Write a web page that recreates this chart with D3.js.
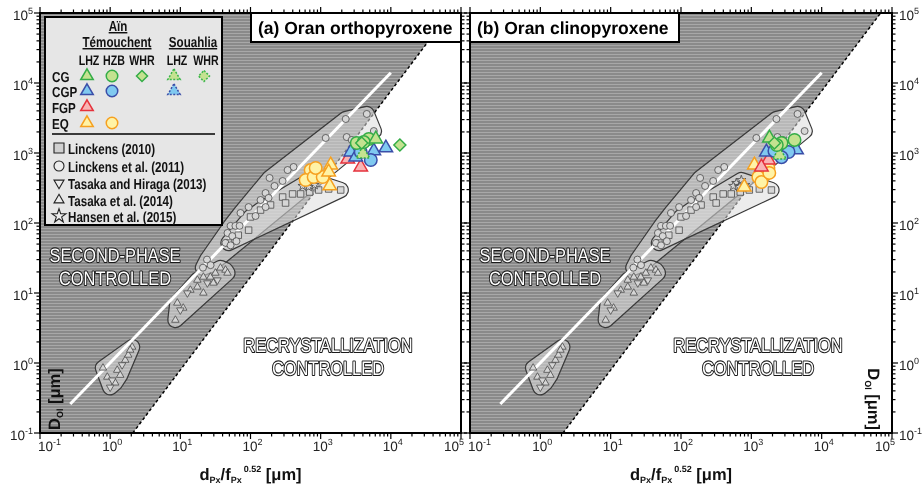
<!DOCTYPE html>
<html><head><meta charset="utf-8">
<script src="https://cdn.jsdelivr.net/npm/d3@7"></script>
<style>body{margin:0;background:#fff;-webkit-font-smoothing:antialiased}svg{display:block}text{text-rendering:geometricPrecision}</style>
</head><body>
<svg id="c" width="924" height="489"></svg>
<script>
// ---------------- DATA ----------------
const decades = [0.1, 1, 10, 100, 1000, 10000, 100000];
const decadeExp = ["-1", "0", "1", "2", "3", "4", "5"];
const boundary = [[2.1, 0.1], [6.9e4, 1e5]];        // second-phase / recrystallization limit
const fitLine = [[0.27, 0.26], [1e4, 1.4e4]];        // white trend line

// literature data [x, y, envelope group]
const linckens2011 = [[4540,3610,"c"],[2275,3060,"c"],[5720,2060,"c"],[1180,1640,"c"],[2350,1690,"c"],[2770,1535,"c"],
  [411,631,"c"],[338,571,"c"],[287,398,"c"],[187,440,"c"],[164,268,"c"],[139,213,"c"],[181,228,"c"],[164,169,"c"],
  [94,169,"c"],[52,91,"c"],[61,91,"c"],[70,91,"c"],[47,72,"c"],[55,65,"c"],[63,55,"c"],[44,52,"c"],[52,48,"c"],
  [24,30,"c"],[21,23,"c"],[27,25,"c"],[72,139,"c"],[118,126,"c"],[220,338,"c"]];
const linckens2010 = [[1930,296,"s"],[1300,306,"s"],[936,296,"s"],[696,277,"s"],[518,260,"s"],[398,260,"s"],[287,235,"s"],
  [316,193,"s"],[193,181,"s"],[139,153,"s"],[100,122,"s"],[94,79,"s"],[67,67,"s"],[48.5,51.8,"s"]];
const hansen2015 = [[611,373,"s"],[720,411,"s"],[820,349,"s"],[553,338,"s"],[674,327,"s"]];
const tasaka2014 = [[17.5,15.3,"tB"],[21.3,16.9,"tB"],[26.8,16.9,"tB"],[31.6,19.3,"tB"],[37.3,22.8,"tB"],[44,21.3,"tB"],
  [29.6,13.9,"tB"],[17.5,12.2,"tB"],[13.9,11,"tB"],[21.3,10,"tB"],[47,19.3,"tB"],[9.06,7.2,"tB"],[8.5,4.1,"tB"],[11,6.1,"tB"],
  [0.79,0.85,"tA"],[0.91,0.63,"tA"],[1.26,0.79,"tA"],[1.64,1.1,"tA"],[1.81,1.3,"tA"],[2.06,1.69,"tA"],[1.39,0.67,"tA"],
  [1.18,0.52,"tA"],[1.93,1.53,"tA"]];
const tasakaHiraga2013 = [[24.3,13.9,"tB"],[12.6,10,"tB"],[10,5.7,"tB"],[33.8,15.3,"tB"],
  [1.07,0.57,"tA"],[1.48,0.94,"tA"],[1.0,0.45,"tA"]];

// this study, (a) orthopyroxene
const opxCG_LHZ = [[6100,1585]];
const opxCG_SouLHZ = [[4000,968]];
const opxCG_HZB = [[3270,1390],[4850,1585],[4110,1435]];
const opxCG_WHR = [[13450,1300],[3850,1390]];
const opxCGP_LHZ = [[2685,1033],[8490,1180],[5720,1069],[3160,877]];
const opxCGP_HZB = [[5180,794],[3725,1033]];
const opxFGP_LHZ = [[2430,820],[3725,631]];
const opxEQ_LHZ = [[1390,674],[1300,535],[1345,338]];
const opxEQ_HZB = [[720,571],[611,411],[794,454],[1069,454],[849,611]];

// this study, (b) clinopyroxene
const cpxCG_LHZ = [[1807,1637]];
const cpxCG_SouLHZ = [[2510,936]];
const cpxCG_HZB = [[2685,1390],[4110,1535],[2300,1300]];
const cpxCG_WHR = [[2130,1390]];
const cpxCGP_LHZ = [[1637,1033],[4395,1105]];
const cpxCGP_HZB = [[3380,1033],[2130,1069],[2685,870]];
const cpxFGP_LHZ = [[1750,794],[1390,631]];
const cpxEQ_LHZ = [[1105,674],[794,327]];
const cpxEQ_HZB = [[1750,611],[1535,485],[1259,454],[1390,385],[1800,520]];

const titles = ["(a) Oran orthopyroxene", "(b) Oran clinopyroxene"];

// ---------------- STYLE ----------------
const fontR = "'Liberation Sans',Arial,sans-serif";
const colors = {
  CG: {fill: "#c4e290", stroke: "#34ad47"},
  CGP: {fill: "#80c9f0", stroke: "#3a4ea8"},
  FGP: {fill: "#f8b4b4", stroke: "#e5323c"},
  EQ: {fill: "#fff3a6", stroke: "#f6a01f"}
};
const symSize = {tri: 13.5, circle: 12.5, diamond: 12};

// narrow text: drawn at origin and horizontally scaled
function narrowText(parent, str, x0, y0, k) {
  return parent.append("text").attr("x", 0).attr("y", 0)
    .attr("transform", `translate(${x0},${y0}) scale(${k},1)`).text(str);
}

function sym(type, s) {
  const p = d3.path();
  if (type === "circle") { p.arc(0, 0, s / 2, 0, 2 * Math.PI); p.closePath(); return p.toString(); }
  if (type === "tri") { const h = s * 0.866; p.moveTo(0, -2 * h / 3); p.lineTo(s / 2, h / 3); p.lineTo(-s / 2, h / 3); p.closePath(); return p.toString(); }
  if (type === "dtri") { const h = s * 0.866; p.moveTo(0, 2 * h / 3); p.lineTo(s / 2, -h / 3); p.lineTo(-s / 2, -h / 3); p.closePath(); return p.toString(); }
  if (type === "square") { p.rect(-s / 2, -s / 2, s, s); return p.toString(); }
  if (type === "diamond") { p.moveTo(0, -s / 2); p.lineTo(s / 2, 0); p.lineTo(0, s / 2); p.lineTo(-s / 2, 0); p.closePath(); return p.toString(); }
  if (type === "star") { return d3.symbol(d3.symbolStar, s * s * 0.42)(); }
}

const svg = d3.select("#c");
const defs = svg.append("defs");
const pat = defs.append("pattern").attr("id", "hatch").attr("patternUnits", "userSpaceOnUse")
  .attr("width", 10).attr("height", 3);
pat.append("rect").attr("width", 10).attr("height", 3).attr("fill", "#8a8a8a");
pat.append("rect").attr("width", 10).attr("height", 1).attr("fill", "#a8a8a8");

const Y0 = 433, Y1 = 13;
const y = d3.scaleLog().domain([0.1, 1e5]).range([Y0, Y1]);

const panels = [
  {id: "a", x0: 40, x1: 461,
   series: [
     {d: opxEQ_HZB, c: "EQ", s: "circle"}, {d: opxEQ_LHZ, c: "EQ", s: "tri"},
     {d: opxFGP_LHZ, c: "FGP", s: "tri"},
     {d: opxCGP_LHZ, c: "CGP", s: "tri"}, {d: opxCGP_HZB, c: "CGP", s: "circle"},
     {d: opxCG_SouLHZ, c: "CG", s: "tri", dash: true}, {d: opxCG_HZB, c: "CG", s: "circle"},
     {d: opxCG_LHZ, c: "CG", s: "tri"}, {d: opxCG_WHR, c: "CG", s: "diamond"}]},
  {id: "b", x0: 470, x1: 892,
   series: [
     {d: cpxEQ_HZB, c: "EQ", s: "circle"}, {d: cpxEQ_LHZ, c: "EQ", s: "tri"},
     {d: cpxFGP_LHZ, c: "FGP", s: "tri"},
     {d: cpxCGP_LHZ, c: "CGP", s: "tri"}, {d: cpxCGP_HZB, c: "CGP", s: "circle"},
     {d: cpxCG_SouLHZ, c: "CG", s: "tri", dash: true}, {d: cpxCG_HZB, c: "CG", s: "circle"},
     {d: cpxCG_LHZ, c: "CG", s: "tri"}, {d: cpxCG_WHR, c: "CG", s: "diamond"}]}
];

const literature = [
  {d: linckens2010, s: "square", size: 6.5},
  {d: hansen2015, s: "star", size: 8},
  {d: tasaka2014, s: "tri", size: 7.5},
  {d: tasakaHiraga2013, s: "dtri", size: 7.5},
  {d: linckens2011, s: "circle", size: 7}
];
const envGroups = ["c", "s", "tB", "tA"];
const PAD = 7;

panels.forEach((P, pi) => {
  const x = d3.scaleLog().domain([0.1, 1e5]).range([P.x0, P.x1]);
  const clipId = "clip" + P.id;
  defs.append("clipPath").attr("id", clipId).append("rect")
    .attr("x", P.x0).attr("y", Y1).attr("width", P.x1 - P.x0).attr("height", Y0 - Y1);
  const g = svg.append("g");
  const pg = g.append("g").attr("clip-path", `url(#${clipId})`);
  pg.append("rect").attr("x", P.x0).attr("y", Y1).attr("width", P.x1 - P.x0).attr("height", Y0 - Y1).attr("fill", "#fff");

  // shaded second-phase region
  const poly = [[0.1, 0.1], boundary[0], boundary[1], [0.1, 1e5]];
  pg.append("path").attr("d", d3.line().x(d => x(d[0])).y(d => y(d[1]))(poly) + "Z").attr("fill", "url(#hatch)");
  pg.append("line").attr("x1", x(boundary[0][0])).attr("y1", y(boundary[0][1]))
    .attr("x2", x(boundary[1][0])).attr("y2", y(boundary[1][1]))
    .attr("stroke", "#000").attr("stroke-width", 1.5).attr("stroke-dasharray", "3,2.5");

  // envelopes around literature data
  const allLit = [].concat(...literature.map(l => l.d));
  envGroups.forEach((eg, gi) => {
    const pts = allLit.filter(d => d[2] === eg).map(d => [x(d[0]), y(d[1])]);
    const hull = d3.polygonHull(pts);
    const dPath = "M" + hull.map(p => p.join(",")).join("L") + "Z";
    const fillG = pg.append("g").attr("opacity", 0.55);
    fillG.append("path").attr("d", dPath).attr("fill", "#dedede").attr("stroke", "#dedede")
      .attr("stroke-width", 2 * PAD).attr("stroke-linejoin", "round");
    const mid = "m" + P.id + gi;
    const m = defs.append("mask").attr("id", mid).attr("maskUnits", "userSpaceOnUse")
      .attr("x", 0).attr("y", 0).attr("width", 924).attr("height", 489);
    m.append("path").attr("d", dPath).attr("fill", "#fff").attr("stroke", "#fff")
      .attr("stroke-width", 2 * PAD + 2.4).attr("stroke-linejoin", "round");
    m.append("path").attr("d", dPath).attr("fill", "#000").attr("stroke", "#000")
      .attr("stroke-width", 2 * PAD).attr("stroke-linejoin", "round");
    pg.append("rect").attr("x", 0).attr("y", 0).attr("width", 924).attr("height", 489)
      .attr("fill", "#3a3a3a").attr("mask", `url(#${mid})`);
  });

  // white trend line
  pg.append("line").attr("x1", x(fitLine[0][0])).attr("y1", y(fitLine[0][1]))
    .attr("x2", x(fitLine[1][0])).attr("y2", y(fitLine[1][1]))
    .attr("stroke", "#fff").attr("stroke-width", 3);

  // literature points
  literature.forEach(L => {
    pg.selectAll(null).data(L.d).enter().append("path")
      .attr("transform", d => `translate(${x(d[0])},${y(d[1])})`)
      .attr("d", sym(L.s, L.size)).attr("fill", "#d6d6d6").attr("stroke", "#4a4a4a").attr("stroke-width", 0.8);
  });

  // this study
  P.series.forEach(S => {
    const col = colors[S.c];
    pg.selectAll(null).data(S.d).enter().append("path")
      .attr("transform", d => `translate(${x(d[0])},${y(d[1])})`)
      .attr("d", sym(S.s, symSize[S.s])).attr("fill", col.fill).attr("stroke", col.stroke)
      .attr("stroke-width", 1.5).attr("stroke-dasharray", S.dash ? "2,1.5" : null);
  });

  // region labels (outlined text)
  const off = P.x0 - 40;
  const lab = [["SECOND-PHASE", 115, 262], ["CONTROLLED", 115, 285], ["RECRYSTALLIZATION", 328, 352], ["CONTROLLED", 328, 375]];
  const lgG = g.append("g").attr("opacity", 0.999);
  lab.forEach(l => {
    narrowText(lgG, l[0], l[1] + off, l[2], 0.84).attr("text-anchor", "middle")
      .attr("font-family", fontR).attr("font-size", 19.5).attr("fill", "#fff")
      .attr("stroke", "#1a1a1a").attr("stroke-width", 2.2).attr("stroke-linejoin", "round")
      .attr("paint-order", "stroke");
  });

  // title box
  const tb = pi === 0 ? {x: 251, w: 210} : {x: 470, w: 209};
  g.append("rect").attr("x", tb.x).attr("y", Y1).attr("width", tb.w).attr("height", 29)
    .attr("fill", "#fff").attr("stroke", "#000").attr("stroke-width", 2);
  g.append("text").attr("x", tb.x + 7).attr("y", 34).attr("font-family", fontR).attr("font-weight", "bold")
    .attr("font-size", 17.5).attr("fill", "#000").text(titles[pi]);

  // frame
  g.append("rect").attr("x", P.x0).attr("y", Y1).attr("width", P.x1 - P.x0).attr("height", Y0 - Y1)
    .attr("fill", "none").attr("stroke", "#000").attr("stroke-width", 2);

  // ticks
  const minors = [];
  for (let k = 0; k < 6; k++) for (let mm = 2; mm <= 9; mm++) minors.push(decades[k] * mm);
  const tk = g.append("g").attr("stroke", "#000").attr("stroke-width", 1.2);
  [[decades, 6], [minors, 3.5]].forEach(([vals, len]) => {
    vals.forEach(v => {
      tk.append("line").attr("x1", x(v)).attr("x2", x(v)).attr("y1", Y0).attr("y2", Y0 + len);
      tk.append("line").attr("x1", x(v)).attr("x2", x(v)).attr("y1", Y1).attr("y2", Y1 - len);
      tk.append("line").attr("y1", y(v)).attr("y2", y(v)).attr("x1", P.x0).attr("x2", P.x0 - len);
      tk.append("line").attr("y1", y(v)).attr("y2", y(v)).attr("x1", P.x1).attr("x2", P.x1 + len);
    });
  });

  // tick labels
  function tickLabel(px, py, exp, anchor) {
    const t = g.append("text").attr("x", px).attr("y", py).attr("text-anchor", anchor)
      .attr("font-family", fontR).attr("font-size", 13.5).attr("fill", "#222");
    t.append("tspan").text("10");
    t.append("tspan").attr("dy", -6).attr("font-size", 9).text(exp);
  }
  decades.forEach((v, i) => {
    let anchor = "middle", dx = 2;
    if (i === 0) { anchor = "start"; dx = -2; }
    if (i === decades.length - 1) { anchor = "end"; dx = 3; }
    tickLabel(x(v) + dx, 451, decadeExp[i], anchor);
    if (pi === 0) tickLabel(P.x0 - 7, y(v) + 7, decadeExp[i], "end");
    else tickLabel(P.x1 + 7, y(v) + 7, decadeExp[i], "start");
  });

  // axis titles
  const xt = g.append("text").attr("x", (P.x0 + P.x1) / 2).attr("y", 480).attr("text-anchor", "middle")
    .attr("font-family", fontR).attr("font-weight", "bold").attr("font-size", 16.5).attr("fill", "#111");
  xt.append("tspan").text("d");
  xt.append("tspan").attr("dy", 3).attr("font-size", 9).text("Px");
  xt.append("tspan").attr("dy", -3).text("/f");
  xt.append("tspan").attr("dy", 3).attr("font-size", 9).text("Px");
  xt.append("tspan").attr("dy", -11).attr("dx", 2).attr("font-size", 9).text("0.52");
  xt.append("tspan").attr("dy", 8).text(" [μm]");

  const yt = g.append("text")
    .attr("transform", pi === 0 ? "translate(60,430) rotate(-90)" : "translate(868,430) rotate(90)")
    .attr("text-anchor", pi === 0 ? "start" : "end")
    .attr("font-family", fontR).attr("font-weight", "bold").attr("font-size", 16.5).attr("fill", "#111");
  yt.append("tspan").text("D");
  yt.append("tspan").attr("dy", 3).attr("font-size", 9).text("Ol");
  yt.append("tspan").attr("dy", -3).text(" [μm]");
});

// ---------------- LEGEND ----------------
const lg = svg.append("g");
lg.append("rect").attr("x", 45).attr("y", 17).attr("width", 177).attr("height", 208)
  .attr("fill", "#e6e6e6").attr("stroke", "#000").attr("stroke-width", 2);
function ltext(t, x0, y0, anchor, underline, fs, k) {
  return narrowText(lg, t, x0, y0, k || 0.8).attr("text-anchor", anchor || "start")
    .attr("font-family", fontR).attr("font-weight", "bold").attr("font-size", fs || 14.5).attr("fill", "#111")
    .style("text-decoration", underline ? "underline" : null);
}
ltext("Aïn", 118, 31, "middle", true);
ltext("Témouchent", 117, 47, "middle", true);
ltext("Souahlia", 193, 47, "middle", true);
[["LHZ", 89], ["HZB", 114], ["WHR", 142], ["LHZ", 177], ["WHR", 206]].forEach(h => ltext(h[0], h[1], 65, "middle", false, 14, 0.76));
const rows = [["CG", 76], ["CGP", 91], ["FGP", 107], ["EQ", 123]];
rows.forEach(r => ltext(r[0], 52, r[1] + 5.5));
const legSyms = [
  ["CG", "tri", 87, 76, false], ["CG", "circle", 112, 76, false], ["CG", "diamond", 142, 76, false],
  ["CG", "tri", 174, 76, true], ["CG", "diamond", 204, 76, true],
  ["CGP", "tri", 87, 91, false], ["CGP", "circle", 112, 91, false], ["CGP", "tri", 174, 91, true],
  ["FGP", "tri", 87, 107, false],
  ["EQ", "tri", 87, 123, false], ["EQ", "circle", 112, 123, false]
];
legSyms.forEach(s => {
  const col = colors[s[0]];
  lg.append("path").attr("transform", `translate(${s[2]},${s[3]})`).attr("d", sym(s[1], symSize[s[1]] - 1))
    .attr("fill", col.fill).attr("stroke", s[4] ? (s[0] === "CG" ? "#3ab54a" : "#3a4ea8") : col.stroke)
    .attr("stroke-width", 1.5).attr("stroke-dasharray", s[4] ? "2,1.5" : null);
});
lg.append("line").attr("x1", 52).attr("x2", 215).attr("y1", 134).attr("y2", 134).attr("stroke", "#000").attr("stroke-width", 1.5);
const litLeg = [["square", "Linckens (2010)", 148], ["circle", "Linckens et al. (2011)", 166],
  ["dtri", "Tasaka and Hiraga (2013)", 183], ["tri", "Tasaka et al. (2014)", 200], ["star", "Hansen et al. (2015)", 216]];
litLeg.forEach(l => {
  lg.append("path").attr("transform", `translate(59,${l[2]})`).attr("d", sym(l[0], l[0] === "star" ? 12 : 10))
    .attr("fill", l[0] === "square" ? "#d0d0d0" : "#ececec").attr("stroke", "#222").attr("stroke-width", 1.1);
  ltext(l[1], 68, l[2] + 5.5);
});
</script>
</body></html>
